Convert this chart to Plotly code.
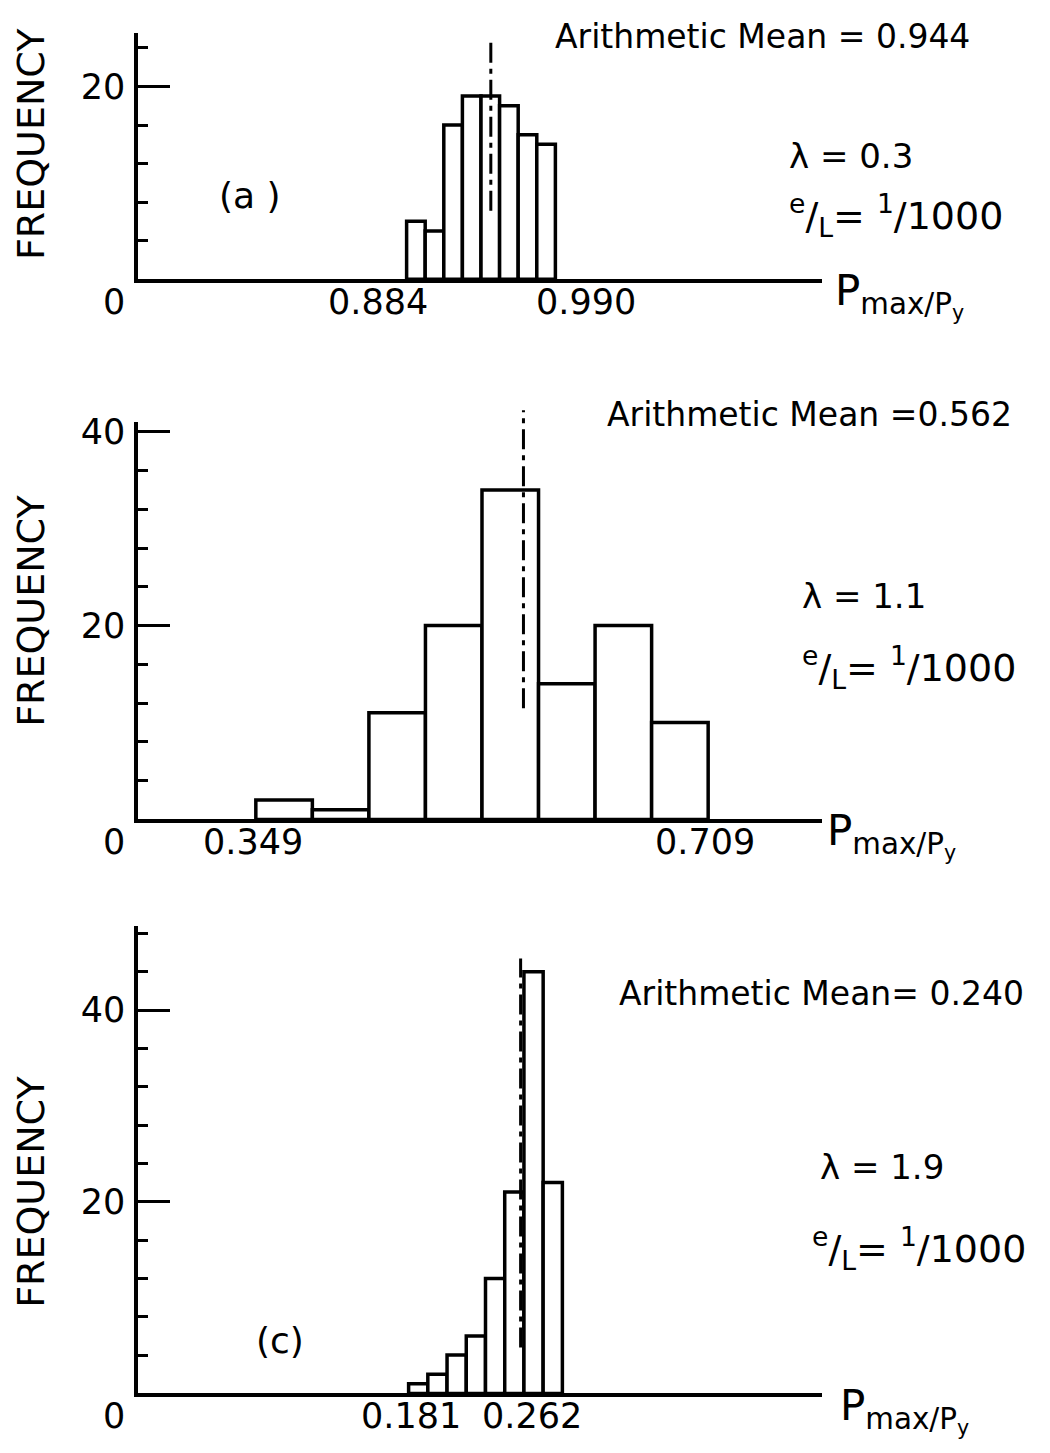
import plotly.graph_objects as go
import numpy as np

W, H = 1050, 1453

# ---------------- data ----------------
panel_tags = ["(a )", "", "(c)"]
lambda_text = ["λ = 0.3", "λ = 1.1", "λ = 1.9"]
mean_text = ["Arithmetic Mean = 0.944", "Arithmetic Mean =0.562", "Arithmetic Mean= 0.240"]
means = [0.944, 0.562, 0.240]
bin_min = [0.884, 0.349, 0.181]
bin_max = [0.990, 0.709, 0.262]
counts_a = [6, 5, 16, 19, 19, 18, 15, 14]
counts_b = [2, 1, 11, 20, 34, 14, 20, 10]
counts_c = [1, 2, 4, 6, 12, 21, 44, 22]
counts = [counts_a, counts_b, counts_c]
y_major = [[20], [20, 40], [20, 40]]
x_labels = [["0.884", "0.990"], ["0.349", "0.709"], ["0.181", "0.262"]]

# ---------------- geometry (pixels) ----------------
FONT = "DejaVu Sans"
X_LEFT, X_RIGHT = 138, 822
geo = [
    dict(top=23, base=271, ymax=25.57, xr=(0.69263, 1.17995), mline=(0.278, 0.964),
         lab_shift=(-29, 31), mean_lab=(553, 27), lam=(787, 147), el=(787, 207),
         tag=(250, 187), freq=135, pm=(833, 256)),
    dict(top=415, base=815, ymax=41.0, xr=(0.255225, 0.7996), mline=(0.28, 1.03),
         lab_shift=(-3, -3), mean_lab=(605, 407), lam=(800, 590), el=(800, 662),
         tag=(250, 600), freq=605, pm=(825, 800)),
    dict(top=922, base=1393, ymax=48.8, xr=(0.03846, 0.39875), mline=(0.098, 0.93),
         lab_shift=(2, -30), mean_lab=(617, 990), lam=(818, 1165), el=(810, 1247),
         tag=(280, 1340), freq=1190, pm=(838, 1378)),
]


def px(x, y):
    return x / W, 1 - y / H


fig = go.Figure()
annotations = []
shapes = []
layout = dict(width=W, height=H, margin=dict(l=0, r=0, t=0, b=0),
              paper_bgcolor="white", plot_bgcolor="white", showlegend=False,
              font=dict(family=FONT, color="black"))


def ann(text, x, y, size, xanchor="left", yanchor="middle", **kw):
    xx, yy = px(x, y)
    d = dict(text=text, x=xx, y=yy, xref="paper", yref="paper", showarrow=False,
             xanchor=xanchor, yanchor=yanchor, font=dict(family=FONT, size=size, color="black"))
    d.update(kw)
    annotations.append(d)


for i, g in enumerate(geo):
    n = i + 1
    xa = "x" if n == 1 else f"x{n}"
    ya = "y" if n == 1 else f"y{n}"
    xkey = "xaxis" if n == 1 else f"xaxis{n}"
    ykey = "yaxis" if n == 1 else f"yaxis{n}"

    edges = np.linspace(bin_min[i], bin_max[i], len(counts[i]) + 1)
    centers = (edges[:-1] + edges[1:]) / 2
    width = edges[1] - edges[0]
    fig.add_trace(go.Bar(x=centers, y=counts[i], width=width, xaxis=xa, yaxis=ya,
                         marker=dict(color="white", line=dict(color="black", width=3.5)),
                         hoverinfo="skip"))

    y0 = 1 - g["base"] / H
    y1 = 1 - g["top"] / H
    layout[xkey] = dict(domain=[X_LEFT / W, X_RIGHT / W], range=list(g["xr"]), anchor=ya,
                        showline=True, linecolor="black", linewidth=3.5, ticks="",
                        showticklabels=False, showgrid=False, zeroline=False, fixedrange=True)
    layout[ykey] = dict(domain=[y0, y1], range=[0, g["ymax"]], anchor=xa,
                        showline=True, linecolor="black", linewidth=3.5,
                        tickmode="array", tickvals=y_major[i], ticks="inside", ticklen=32,
                        tickwidth=3, tickcolor="black", ticklabelstandoff=2,
                        tickfont=dict(family=FONT, size=35, color="black"),
                        minor=dict(tick0=0, dtick=4, ticks="inside", ticklen=10, tickwidth=3,
                                   tickcolor="black", showgrid=False),
                        showgrid=False, zeroline=False, fixedrange=True)

    # mean line
    shapes.append(dict(type="line", xref=xa, yref=f"{ya} domain", x0=means[i], x1=means[i],
                       y0=g["mline"][0], y1=g["mline"][1],
                       line=dict(color="black", width=3, dash="20px,6px,5px,6px")))

    # texts
    ann(mean_text[i], g["mean_lab"][0], g["mean_lab"][1], 33)
    ann(lambda_text[i], g["lam"][0], g["lam"][1], 34)
    ann("<sup>e</sup>/<sub>L</sub>= <sup>1</sup>/1000", g["el"][0], g["el"][1], 38)
    if panel_tags[i]:
        ann(panel_tags[i], g["tag"][0], g["tag"][1], 36, xanchor="center")
    ann("FREQUENCY", 31, g["freq"], 38, xanchor="center", textangle=-90)
    ann("0", 114, g["base"] + 23, 35, xanchor="center")
    ann("P<sub>max/P<sub>y</sub></sub>", g["pm"][0], g["pm"][1], 42, yanchor="top")
    for j, val in enumerate([bin_min[i], bin_max[i]]):
        annotations.append(dict(text=x_labels[i][j], x=val, xref=xa, y=1 - (g["base"] + 23) / H,
                                yref="paper", showarrow=False, xanchor="center", yanchor="middle",
                                xshift=g["lab_shift"][j],
                                font=dict(family=FONT, size=35, color="black")))

layout["annotations"] = annotations
layout["shapes"] = shapes
fig.update_layout(**layout)
fig.write_html("out.html", config={"displayModeBar": False},
               post_script="document.body.style.margin='0';document.body.style.overflow='hidden';")
